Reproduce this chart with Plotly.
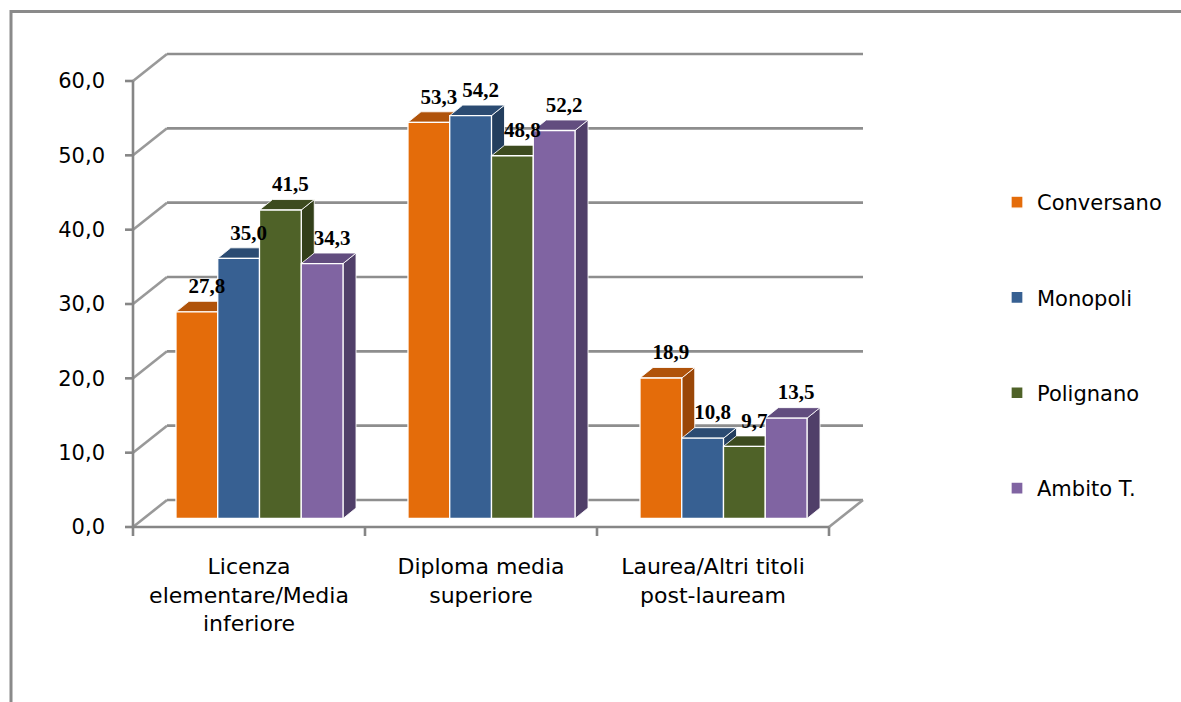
import plotly.graph_objects as go

# ---------------- data ----------------
categories = ["Licenza<br>elementare/Media<br>inferiore",
              "Diploma media<br>superiore",
              "Laurea/Altri titoli<br>post-lauream"]
series_names = ["Conversano", "Monopoli", "Polignano", "Ambito T."]
conversano = [27.8, 53.3, 18.9]
monopoli = [35.0, 54.2, 10.8]
polignano = [41.5, 48.8, 9.7]
ambito = [34.3, 52.2, 13.5]
y_ticks = [0, 10, 20, 30, 40, 50, 60]

series_values = [conversano, monopoli, polignano, ambito]
front_colors = ["#E46C0A", "#376092", "#4F6228", "#8064A2"]
top_colors = ["#B0530A", "#2B4B72", "#3D4B1F", "#624D7F"]
side_colors = ["#9A4708", "#233E5E", "#323F19", "#503F69"]

# ---------------- geometry (pixels -> data units) ----------------
W, H = 1181, 702
S = 446 / 60.0          # px per value unit
PXC = 232.0             # px per category
AX_X, AX_Y = 133, 527   # front axes origin in px
PL, PR, PT, PB = 116, 885, 38, 542  # plot area in px
PW, PH = PR - PL, PB - PT


def paper_x(px):
    return (px - PL) / PW


def paper_y(py):
    return (PB - py) / PH


xr = [-0.5 - (AX_X - PL) / PXC, -0.5 + (PR - AX_X) / PXC]
yr = [-(PB - AX_Y) / S, (AX_Y - PT) / S]

gdx, gdy = 34 / PXC, 27 / S        # back wall depth
ox, oy = 10.5 / PXC, 8.5 / S       # bar front plane offset
bdx, bdy = 13 / PXC, 10.5 / S      # bar depth
n = len(series_values)
bargap = 0.28
bw = (1 - bargap) / n

fig = go.Figure()

# frame: back wall gridlines, left wall diagonals, floor, front axes
grid_x, grid_y, diag_x, diag_y, axis_x, axis_y = [], [], [], [], [], []
ymax_tick = y_ticks[-1]
x_lo, x_hi = -0.5, len(categories) - 0.5
for t in y_ticks:
    grid_x += [x_lo + gdx, x_hi + gdx, None]
    grid_y += [t + gdy, t + gdy, None]
    diag_x += [x_lo, x_lo + gdx, None]
    diag_y += [t, t + gdy, None]
    axis_x += [x_lo - 8 / PXC, x_lo, None]
    axis_y += [t, t, None]
diag_x += [x_hi, x_hi + gdx, None]
diag_y += [0, gdy, None]
axis_x += [x_lo, x_lo, None, x_lo, x_hi, None]
axis_y += [0, ymax_tick, None, 0, 0, None]
for k in range(len(categories) + 1):
    b = x_lo + k
    axis_x += [b, b, None]
    axis_y += [0, -9 / S, None]

fig.add_trace(go.Scatter(x=grid_x, y=grid_y, mode="lines",
                         line=dict(color="#8E8E8E", width=2.6),
                         hoverinfo="skip", showlegend=False))
fig.add_trace(go.Scatter(x=diag_x, y=diag_y, mode="lines",
                         line=dict(color="#999999", width=2.6),
                         hoverinfo="skip", showlegend=False))
fig.add_trace(go.Scatter(x=axis_x, y=axis_y, mode="lines",
                         line=dict(color="#868686", width=2.6),
                         hoverinfo="skip", showlegend=False))

# 3D side and top faces (main axes, drawn under the bar fronts)
for j, vals in enumerate(series_values):
    sx, sy, tx, ty = [], [], [], []
    for i, v in enumerate(vals):
        L = i + (j - n / 2) * bw + ox
        R = L + bw
        top = v + oy
        sx += [R, R, R + bdx, R + bdx, R, None]
        sy += [oy, top, top + bdy, oy + bdy, oy, None]
        tx += [L, R, R + bdx, L + bdx, L, None]
        ty += [top, top, top + bdy, top + bdy, top, None]
    fig.add_trace(go.Scatter(x=sx, y=sy, mode="lines", fill="toself",
                             fillcolor=side_colors[j],
                             line=dict(color="rgba(255,255,255,0.85)", width=1),
                             hoverinfo="skip", showlegend=False))
    fig.add_trace(go.Scatter(x=tx, y=ty, mode="lines", fill="toself",
                             fillcolor=top_colors[j],
                             line=dict(color="rgba(255,255,255,0.85)", width=1),
                             hoverinfo="skip", showlegend=False))

# bar fronts on overlaying axes (shifted into the depth of the chart)
xpos = list(range(len(categories)))
for j, vals in enumerate(series_values):
    fig.add_trace(go.Bar(x=xpos, y=vals, name=series_names[j],
                         marker=dict(color=front_colors[j],
                                     line=dict(color="white", width=1.3)),
                         xaxis="x2", yaxis="y2", legendgroup=series_names[j]))

# data labels
lx, ly, lt = [], [], []
for j, vals in enumerate(series_values):
    for i, v in enumerate(vals):
        lx.append(i + (j - (n - 1) / 2) * bw + 10 / PXC)
        ly.append(v + 24 / S)
        lt.append(f"{v:.1f}".replace(".", ","))
fig.add_trace(go.Scatter(x=lx, y=ly, text=lt, mode="text",
                         textfont=dict(family="Liberation Serif", size=21,
                                       color="black", weight="bold"),
                         xaxis="x2", yaxis="y2", hoverinfo="skip",
                         showlegend=False, cliponaxis=False))

font_main = "DejaVu Sans"
fig.update_layout(
    width=W, height=H,
    margin=dict(l=PL, r=W - PR, t=PT, b=H - PB, pad=0),
    paper_bgcolor="white", plot_bgcolor="white",
    barmode="group", bargap=bargap, bargroupgap=0,
    separators=",.",
    font=dict(family=font_main, size=21, color="black"),
    xaxis=dict(range=xr, tickvals=xpos, ticktext=categories, ticks="",
               showgrid=False, zeroline=False, showline=False,
               tickfont=dict(family=font_main, size=22, color="black"),
               ticklabelstandoff=9),
    yaxis=dict(range=yr, tickvals=y_ticks, tickformat=".1f", ticks="",
               showgrid=False, zeroline=False, showline=False,
               tickfont=dict(family=font_main, size=21, color="black"),
               ticklabelstandoff=10),
    xaxis2=dict(range=[xr[0] - ox, xr[1] - ox], overlaying="x",
                visible=False, anchor="y2"),
    yaxis2=dict(range=[yr[0] - oy, yr[1] - oy], overlaying="y",
                visible=False, anchor="x2"),
    legend=dict(x=paper_x(997), xanchor="left", y=paper_y(182), yanchor="top",
                font=dict(family=font_main, size=21, color="black"),
                tracegroupgap=65, bgcolor="rgba(0,0,0,0)"),
    showlegend=True,
    shapes=[dict(type="rect", xref="paper", yref="paper",
                 x0=paper_x(11), x1=paper_x(W + 20),
                 y0=paper_y(H + 20), y1=paper_y(11.5),
                 line=dict(color="#8A8A8A", width=3), layer="above")],
)

fig.write_html("out.html")
